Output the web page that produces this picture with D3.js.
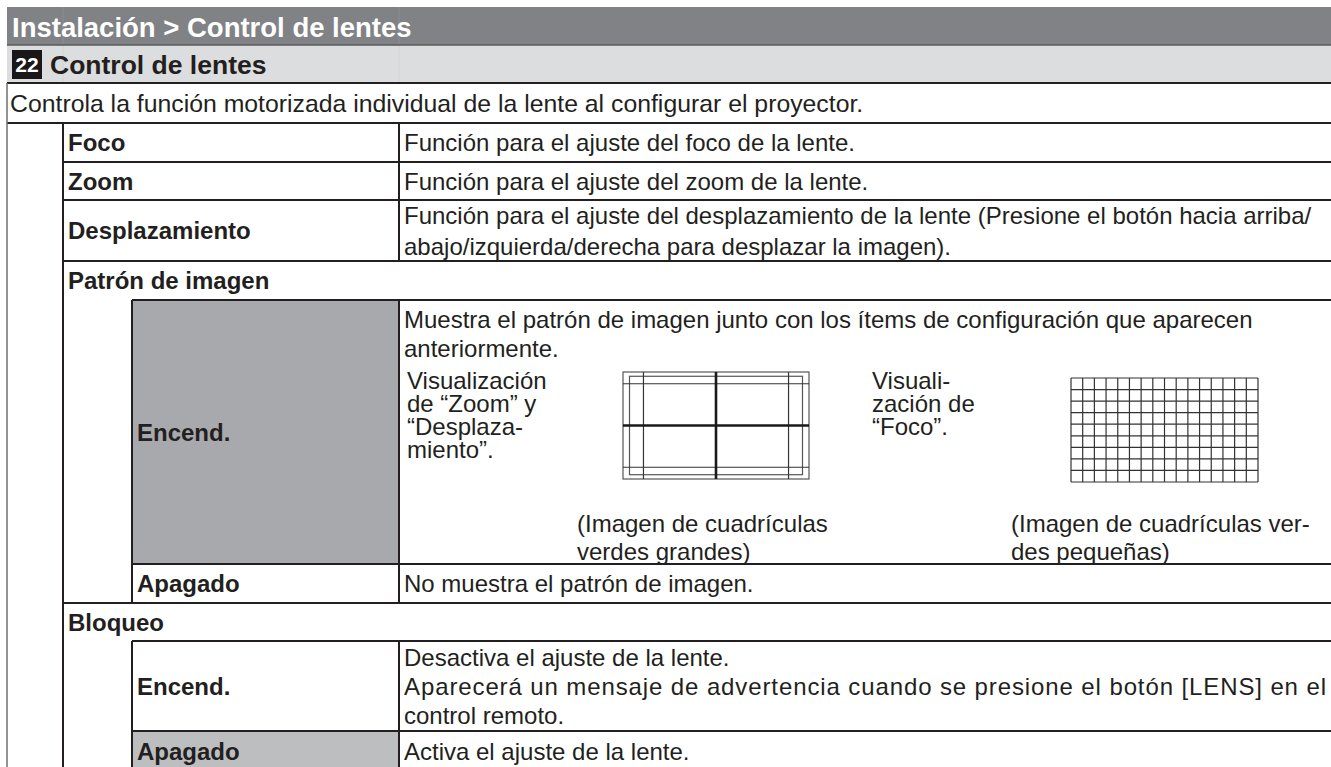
<!DOCTYPE html>
<html><head><meta charset="utf-8">
<script src="https://cdn.jsdelivr.net/npm/d3@7"></script>
<style>
html,body{margin:0;padding:0;background:#fff;}
svg{display:block;}
text{font-family:"Liberation Sans",Arial,Helvetica,sans-serif;}
</style></head>
<body>
<svg id="c" width="1331" height="767"></svg>
<script>
// ---------- DATA ----------
const breadcrumb = "Instalación > Control de lentes";
const sectionNumber = "22";
const sectionTitle = "Control de lentes";
const introText = "Controla la función motorizada individual de la lente al configurar el proyector.";

// table rows: level 1 = item, level 2 = sub-option
const rowLabels = ["Foco","Zoom","Desplazamiento","Patrón de imagen","Encend.","Apagado","Bloqueo","Encend.","Apagado"];
const rowLevels = [1,1,1,1,2,2,1,2,2];
const rowDescs = [
  ["Función para el ajuste del foco de la lente."],
  ["Función para el ajuste del zoom de la lente."],
  ["Función para el ajuste del desplazamiento de la lente (Presione el botón hacia arriba/","abajo/izquierda/derecha para desplazar la imagen)."],
  [],
  ["Muestra el patrón de imagen junto con los ítems de configuración que aparecen","anteriormente."],
  ["No muestra el patrón de imagen."],
  [],
  ["Desactiva el ajuste de la lente.","Aparecerá un mensaje de advertencia cuando se presione el botón [LENS] en el","control remoto."],
  ["Activa el ajuste de la lente."]
];
const rowShade = ["none","none","none","none","dark","none","none","none","light"];
const rowHeights = [39,38,61,39,264,39,38,90,40];

const bigGridCaption = ["Visualización","de “Zoom” y","“Desplaza-","miento”."];
const bigGridNote = ["(Imagen de cuadrículas","verdes grandes)"];
const smallGridCaption = ["Visuali-","zación de","“Foco”."];
const smallGridNote = ["(Imagen de cuadrículas ver-","des pequeñas)"];
const smallGridCols = 16, smallGridRows = 9;
// big grid line positions in grid units (0..1)
const bigGridThin = [0.11, 0.89];
const bigGridThick = [0.5];

// ---------- LAYOUT ----------
const svg = d3.select("#c");
const W = 1331;
const colX = [7, 63, 132, 399, W];
const ink = "#231f20";
const FS = 24;

const headTop = 7, headH = 38, secH = 38, introH = 40;
const tableTop = headTop + headH + secH + introH;
const ends = d3.cumsum(rowHeights).map(v => v + tableTop);
const rows = rowLabels.map((l,i)=>({label:l, level:rowLevels[i], desc:rowDescs[i], shade:rowShade[i],
  y0: i===0 ? tableTop : ends[i-1], y1: ends[i]}));

// multi-line text block as one <text> with <tspan>s
function block(x, y, lines, lh, size){
  const t = svg.append("text").attr("x",x).attr("y",y).attr("fill",ink).attr("font-size",size||FS);
  lines.forEach((s,k)=>t.append("tspan").attr("x",x).attr("y",y+k*lh).attr("dy","0.36em").text(s));
  return t;
}

// header band
svg.append("rect").attr("x",colX[0]).attr("y",headTop).attr("width",W-colX[0]).attr("height",headH).attr("fill","#808285");
svg.append("rect").attr("x",colX[0]).attr("y",headTop+headH).attr("width",W-colX[0]).attr("height",secH).attr("fill","#dcddde");
[colX[1],colX[3]].forEach(x=>{
  svg.append("line").attr("x1",x).attr("x2",x).attr("y1",headTop).attr("y2",headTop+headH).attr("stroke","#8b8d90").attr("stroke-width",1);
  svg.append("line").attr("x1",x).attr("x2",x).attr("y1",headTop+headH).attr("y2",headTop+headH+secH).attr("stroke","#d2d3d5").attr("stroke-width",1);
});
svg.append("line").attr("x1",colX[0]).attr("x2",W).attr("y1",headTop+headH).attr("y2",headTop+headH).attr("stroke","#58595b").attr("stroke-width",1.5);
svg.append("line").attr("x1",colX[0]).attr("x2",W).attr("y1",headTop+headH+secH).attr("y2",headTop+headH+secH).attr("stroke",ink).attr("stroke-width",2);

svg.append("text").attr("x",12).attr("y",headTop+headH/2+1).attr("dy","0.36em")
  .attr("fill","#fff").attr("font-weight","bold").attr("font-size",27.5).text(breadcrumb);
const sy = headTop+headH;
svg.append("rect").attr("x",12).attr("y",sy+5).attr("width",30).attr("height",secH-9).attr("fill","#1a1718");
svg.append("text").attr("x",27).attr("y",sy+secH/2).attr("dy","0.36em").attr("text-anchor","middle")
  .attr("fill","#fff").attr("font-weight","bold").attr("font-size",21).text(sectionNumber);
svg.append("text").attr("x",50).attr("y",sy+secH/2).attr("dy","0.36em")
  .attr("fill",ink).attr("font-weight","bold").attr("font-size",26.5).text(sectionTitle);

// intro
const iy = headTop+headH+secH;
svg.append("text").attr("x",10).attr("y",iy+introH/2).attr("dy","0.36em").attr("fill",ink).attr("font-size",24.8).text(introText);
svg.append("line").attr("x1",colX[0]).attr("x2",W).attr("y1",tableTop).attr("y2",tableTop).attr("stroke",ink).attr("stroke-width",2);

// shaded cells
rows.forEach((r,i)=>{
  if(r.shade!=="none"){
    svg.append("rect").attr("x",colX[2]).attr("y",r.y0).attr("width",colX[3]-colX[2]).attr("height",r.y1-r.y0+(i===rows.length-1?10:0))
      .attr("fill", r.shade==="dark" ? "#a7a9ac" : "#bcbec0");
  }
});

// row lines and texts
const lineH = 29;
rows.forEach((r,i)=>{
  const hasDesc = r.desc.length>0;
  const lx = r.level===1 ? colX[1] : colX[2];
  svg.append("line").attr("x1",lx).attr("x2",W).attr("y1",r.y0).attr("y2",r.y0).attr("stroke",ink).attr("stroke-width",2);
  svg.append("text").attr("x",lx+5).attr("y",(r.y0+r.y1)/2).attr("dy","0.36em").attr("fill",ink)
    .attr("font-weight","bold").attr("font-size",FS).text(r.label);
  if(hasDesc){
    svg.append("line").attr("x1",colX[3]).attr("x2",colX[3]).attr("y1",r.y0).attr("y2",r.y1+(i===rows.length-1?10:0)).attr("stroke",ink).attr("stroke-width",2);
    const n = r.desc.length;
    const lh = n===2 && i===2 ? 31 : lineH;
    let startY;
    if(i===4) startY = r.y0 + 19;
    else startY = (r.y0+r.y1)/2 - (n-1)*lh/2;
    r.desc.forEach((t,k)=>{
      const tx = svg.append("text").attr("x",colX[3]+5).attr("y",startY+k*lh).attr("dy","0.36em").attr("fill",ink).attr("font-size",FS).text(t);
      if(i===7 && k===1) tx.attr("textLength", W-5-(colX[3]+5)).attr("lengthAdjust","spacing");
    });
  }
  if(r.level===2){
    svg.append("line").attr("x1",colX[2]).attr("x2",colX[2]).attr("y1",r.y0).attr("y2",r.y1+(i===rows.length-1?10:0)).attr("stroke",ink).attr("stroke-width",2);
  }
});
svg.append("line").attr("x1",colX[1]).attr("x2",colX[1]).attr("y1",tableTop).attr("y2",800).attr("stroke",ink).attr("stroke-width",2);
svg.append("line").attr("x1",colX[0]).attr("x2",colX[0]).attr("y1",iy).attr("y2",800).attr("stroke","#6d6e71").attr("stroke-width",1.5);

// ---------- pattern illustrations in the "Encend." row ----------
const pr = rows[4];
const capLH = 23;
block(407, pr.y0+80, bigGridCaption, capLH);
block(872, pr.y0+80, smallGridCaption, capLH);
block(577, pr.y0+223, bigGridNote, 28);
block(1011, pr.y0+223, smallGridNote, 28);

// big grid
const bg = svg.append("g");
const bx = d3.scaleLinear().domain([0,1]).range([623,809]);
const byS = d3.scaleLinear().domain([0,1]).range([372,479]);
bg.append("rect").attr("x",bx(0)).attr("y",byS(0)).attr("width",bx(1)-bx(0)).attr("height",byS(1)-byS(0)).attr("fill","none").attr("stroke","#555").attr("stroke-width",1.2);
bg.append("rect").attr("x",bx(0.035)).attr("y",byS(0.04)).attr("width",bx(0.965)-bx(0.035)).attr("height",byS(0.96)-byS(0.04)).attr("fill","none").attr("stroke","#555").attr("stroke-width",1.2);
bigGridThin.forEach(v=>{
  bg.append("line").attr("x1",bx(v)).attr("x2",bx(v)).attr("y1",byS(0)).attr("y2",byS(1)).attr("stroke","#333").attr("stroke-width",1.2);
  bg.append("line").attr("x1",bx(0)).attr("x2",bx(1)).attr("y1",byS(v)).attr("y2",byS(v)).attr("stroke","#333").attr("stroke-width",1.2);
});
bigGridThick.forEach(v=>{
  bg.append("line").attr("x1",bx(v)).attr("x2",bx(v)).attr("y1",byS(0)).attr("y2",byS(1)).attr("stroke","#1a1a1a").attr("stroke-width",2.6);
  bg.append("line").attr("x1",bx(0)).attr("x2",bx(1)).attr("y1",byS(v)).attr("y2",byS(v)).attr("stroke","#1a1a1a").attr("stroke-width",2.6);
});

// small grid
const sg = svg.append("g");
const gx = d3.scaleLinear().domain([0,smallGridCols]).range([1071,1258]);
const gy = d3.scaleLinear().domain([0,smallGridRows]).range([378,482]);
sg.selectAll("line.v").data(d3.range(smallGridCols+1)).join("line").attr("class","v")
  .attr("x1",d=>gx(d)).attr("x2",d=>gx(d)).attr("y1",gy(0)).attr("y2",gy(smallGridRows)).attr("stroke","#333").attr("stroke-width",1.2);
sg.selectAll("line.h").data(d3.range(smallGridRows+1)).join("line").attr("class","h")
  .attr("x1",gx(0)).attr("x2",gx(smallGridCols)).attr("y1",d=>gy(d)).attr("y2",d=>gy(d)).attr("stroke","#333").attr("stroke-width",1.2);
</script>
</body></html>
